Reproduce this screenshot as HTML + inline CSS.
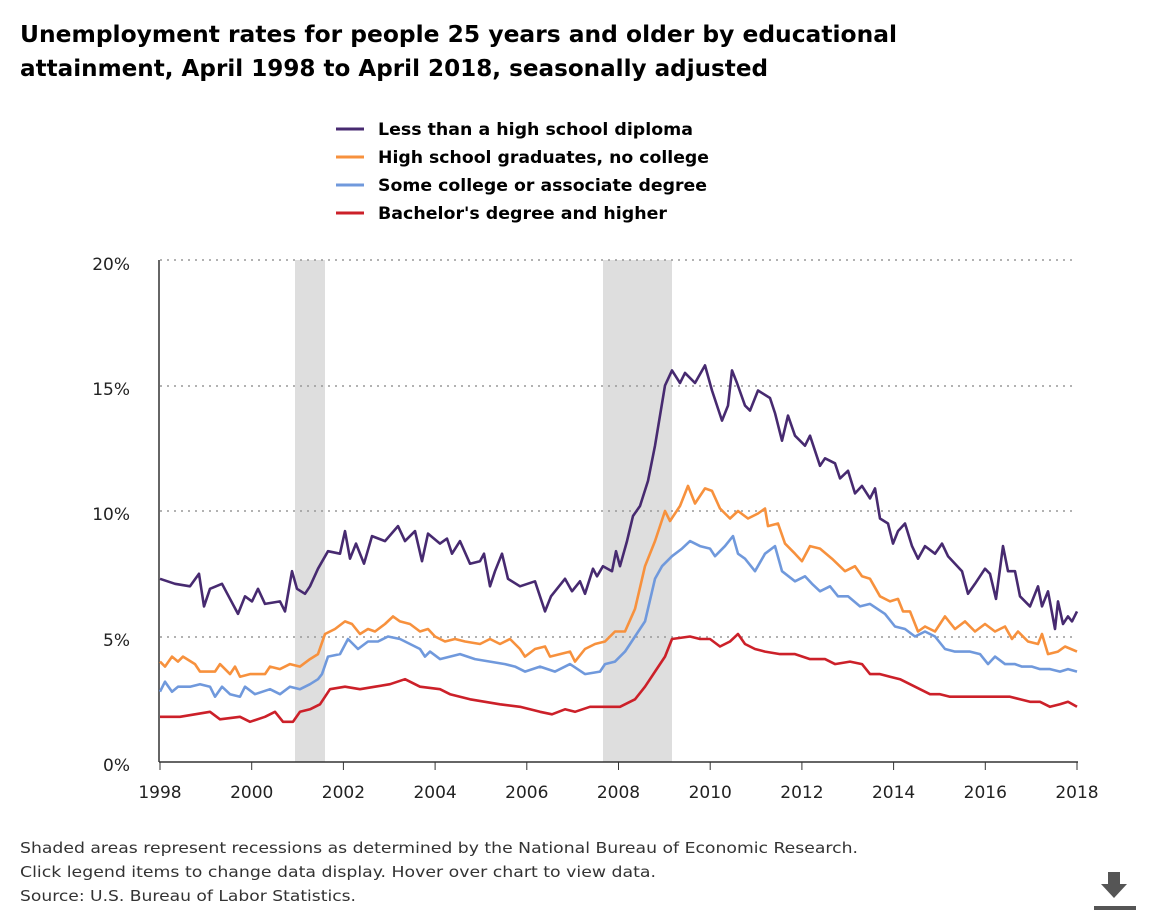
<!DOCTYPE html>
<html><head><meta charset="utf-8">
<style>
body{margin:0;background:#fff;width:1160px;height:920px;overflow:hidden;font-family:"DejaVu Sans",Verdana,sans-serif}
svg text{font-family:"DejaVu Sans",Verdana,sans-serif}
</style></head><body>
<svg id="c" width="1160" height="920" xmlns="http://www.w3.org/2000/svg">
<text x="20" y="42" font-size="23" font-weight="bold" fill="#000" textLength="877" lengthAdjust="spacingAndGlyphs">Unemployment rates for people 25 years and older by educational</text>
<text x="20" y="76" font-size="23" font-weight="bold" fill="#000" textLength="748" lengthAdjust="spacingAndGlyphs">attainment, April 1998 to April 2018, seasonally adjusted</text>
<g font-size="17" font-weight="bold" fill="#000">
<line x1="336" y1="129" x2="364" y2="129" stroke="#472a70" stroke-width="3"/><text x="378" y="135" textLength="315" lengthAdjust="spacingAndGlyphs">Less than a high school diploma</text>
<line x1="336" y1="157" x2="364" y2="157" stroke="#f7913d" stroke-width="3"/><text x="378" y="163" textLength="331" lengthAdjust="spacingAndGlyphs">High school graduates, no college</text>
<line x1="336" y1="185" x2="364" y2="185" stroke="#7099dc" stroke-width="3"/><text x="378" y="191" textLength="329" lengthAdjust="spacingAndGlyphs">Some college or associate degree</text>
<line x1="336" y1="213" x2="364" y2="213" stroke="#cc2029" stroke-width="3"/><text x="378" y="219" textLength="289" lengthAdjust="spacingAndGlyphs">Bachelor's degree and higher</text>
</g>
<rect x="295" y="260" width="30" height="502" fill="#dedede"/>
<rect x="603" y="260" width="69" height="502" fill="#dedede"/>
<g stroke="#999" stroke-dasharray="2,5" stroke-width="1.5">
<line x1="160" y1="260" x2="1077" y2="260"/><line x1="160" y1="386" x2="1077" y2="386"/>
<line x1="160" y1="511" x2="1077" y2="511"/><line x1="160" y1="637" x2="1077" y2="637"/>
</g>
<line x1="159" y1="260" x2="159" y2="762" stroke="#333" stroke-width="1.5"/>
<line x1="159" y1="762" x2="1078" y2="762" stroke="#333" stroke-width="1.5"/>
<g font-size="17" fill="#222" text-anchor="end">
<text x="130" y="270">20%</text><text x="130" y="395">15%</text><text x="130" y="520">10%</text><text x="130" y="646">5%</text><text x="130" y="771">0%</text>
</g>
<g id="ticks" font-size="17" fill="#222" text-anchor="middle"></g>
<g id="lines" fill="none" stroke-width="2.6" stroke-linejoin="round"></g>
<g font-size="15" fill="#333">
<text x="20" y="853" textLength="838" lengthAdjust="spacingAndGlyphs">Shaded areas represent recessions as determined by the National Bureau of Economic Research.</text>
<text x="20" y="877" textLength="636" lengthAdjust="spacingAndGlyphs">Click legend items to change data display. Hover over chart to view data.</text>
<text x="20" y="901" textLength="336" lengthAdjust="spacingAndGlyphs">Source: U.S. Bureau of Labor Statistics.</text>
</g>
<g fill="#555"><rect x="1108" y="872" width="12" height="14"/><polygon points="1101,884 1127,884 1114,898"/><rect x="1094" y="906" width="42" height="4"/></g>
</svg>
<script>
var NS="http://www.w3.org/2000/svg";
var tk=document.getElementById("ticks");
for(var i=0;i<=10;i++){var x=160+i*91.7;var l=document.createElementNS(NS,"line");l.setAttribute("x1",x);l.setAttribute("x2",x);l.setAttribute("y1",762);l.setAttribute("y2",770);l.setAttribute("stroke","#333");tk.appendChild(l);
var t=document.createElementNS(NS,"text");t.setAttribute("x",x);t.setAttribute("y",798);t.textContent=1998+2*i;tk.appendChild(t);}
var D={
"#472a70":[160,7.3,175,7.1,190,7.0,199,7.5,204,6.2,210,6.9,222,7.1,238,5.9,245,6.6,252,6.4,258,6.9,265,6.3,280,6.4,285,6.0,292,7.6,297,6.9,305,6.7,310,7.0,318,7.7,328,8.4,340,8.3,345,9.2,350,8.1,356,8.7,364,7.9,372,9.0,385,8.8,398,9.4,405,8.8,415,9.2,422,8.0,428,9.1,440,8.7,447,8.9,452,8.3,460,8.8,470,7.9,480,8.0,484,8.3,490,7.0,495,7.6,502,8.3,508,7.3,520,7.0,535,7.2,545,6.0,551,6.6,565,7.3,572,6.8,580,7.2,585,6.7,593,7.7,597,7.4,603,7.8,612,7.6,616,8.4,620,7.8,627,8.8,633,9.8,640,10.2,648,11.2,655,12.6,665,15.0,672,15.6,680,15.1,685,15.5,695,15.1,705,15.8,712,14.8,722,13.6,728,14.2,732,15.6,737,15.1,745,14.2,750,14.0,758,14.8,770,14.5,775,13.9,782,12.8,788,13.8,795,13.0,805,12.6,810,13.0,820,11.8,825,12.1,835,11.9,840,11.3,848,11.6,855,10.7,862,11.0,870,10.5,875,10.9,880,9.7,888,9.5,893,8.7,898,9.2,905,9.5,912,8.6,918,8.1,925,8.6,935,8.3,942,8.7,948,8.2,955,7.9,962,7.6,968,6.7,975,7.1,985,7.7,990,7.5,996,6.5,1003,8.6,1008,7.6,1015,7.6,1020,6.6,1030,6.2,1038,7.0,1042,6.2,1048,6.8,1055,5.3,1058,6.4,1063,5.5,1068,5.8,1072,5.6,1077,6.0],
"#f7913d":[160,4.0,165,3.8,172,4.2,178,4.0,183,4.2,195,3.9,200,3.6,215,3.6,220,3.9,230,3.5,235,3.8,240,3.4,250,3.5,265,3.5,270,3.8,280,3.7,290,3.9,300,3.8,310,4.1,318,4.3,325,5.1,335,5.3,345,5.6,352,5.5,360,5.1,368,5.3,375,5.2,385,5.5,393,5.8,400,5.6,410,5.5,420,5.2,428,5.3,435,5.0,445,4.8,455,4.9,465,4.8,480,4.7,490,4.9,500,4.7,510,4.9,520,4.5,525,4.2,535,4.5,545,4.6,550,4.2,570,4.4,575,4.0,585,4.5,595,4.7,605,4.8,615,5.2,625,5.2,635,6.1,645,7.8,655,8.8,665,10.0,670,9.6,680,10.2,688,11.0,695,10.3,705,10.9,712,10.8,720,10.1,730,9.7,738,10.0,748,9.7,758,9.9,765,10.1,768,9.4,778,9.5,785,8.7,795,8.3,802,8.0,810,8.6,820,8.5,832,8.1,845,7.6,855,7.8,862,7.4,870,7.3,880,6.6,890,6.4,898,6.5,903,6.0,910,6.0,918,5.2,925,5.4,935,5.2,945,5.8,955,5.3,965,5.6,975,5.2,985,5.5,995,5.2,1005,5.4,1012,4.9,1018,5.2,1028,4.8,1038,4.7,1042,5.1,1048,4.3,1058,4.4,1065,4.6,1077,4.4],
"#7099dc":[160,2.8,165,3.2,172,2.8,178,3.0,190,3.0,200,3.1,210,3.0,215,2.6,222,3.0,230,2.7,240,2.6,245,3.0,255,2.7,270,2.9,280,2.7,290,3.0,300,2.9,310,3.1,318,3.3,322,3.5,328,4.2,340,4.3,348,4.9,358,4.5,368,4.8,378,4.8,388,5.0,400,4.9,410,4.7,420,4.5,425,4.2,430,4.4,440,4.1,450,4.2,460,4.3,475,4.1,490,4.0,505,3.9,515,3.8,525,3.6,540,3.8,555,3.6,570,3.9,585,3.5,600,3.6,605,3.9,615,4.0,625,4.4,635,5.0,645,5.6,655,7.3,662,7.8,672,8.2,682,8.5,690,8.8,700,8.6,710,8.5,715,8.2,725,8.6,733,9.0,738,8.3,745,8.1,755,7.6,765,8.3,775,8.6,782,7.6,795,7.2,805,7.4,812,7.1,820,6.8,830,7.0,838,6.6,848,6.6,860,6.2,870,6.3,885,5.9,895,5.4,905,5.3,915,5.0,925,5.2,935,5.0,945,4.5,955,4.4,970,4.4,980,4.3,988,3.9,995,4.2,1005,3.9,1015,3.9,1022,3.8,1032,3.8,1040,3.7,1050,3.7,1060,3.6,1068,3.7,1077,3.6],
"#cc2029":[160,1.8,180,1.8,195,1.9,210,2.0,220,1.7,240,1.8,250,1.6,265,1.8,275,2.0,283,1.6,293,1.6,300,2.0,310,2.1,320,2.3,330,2.9,345,3.0,360,2.9,375,3.0,390,3.1,405,3.3,420,3.0,440,2.9,450,2.7,470,2.5,485,2.4,500,2.3,520,2.2,540,2.0,552,1.9,565,2.1,575,2.0,590,2.2,605,2.2,620,2.2,635,2.5,645,3.0,655,3.6,665,4.2,672,4.9,690,5.0,700,4.9,710,4.9,720,4.6,730,4.8,738,5.1,745,4.7,755,4.5,765,4.4,780,4.3,795,4.3,810,4.1,825,4.1,835,3.9,850,4.0,862,3.9,870,3.5,880,3.5,890,3.4,900,3.3,910,3.1,920,2.9,930,2.7,940,2.7,950,2.6,965,2.6,980,2.6,990,2.6,1000,2.6,1010,2.6,1020,2.5,1030,2.4,1040,2.4,1050,2.2,1060,2.3,1068,2.4,1077,2.2]};
var g=document.getElementById("lines");
["#cc2029","#7099dc","#f7913d","#472a70"].forEach(function(c){var a=D[c],p=[];for(var i=0;i<a.length;i+=2)p.push(a[i]+","+(762-a[i+1]*25.1).toFixed(1));
var pl=document.createElementNS(NS,"polyline");pl.setAttribute("points",p.join(" "));pl.setAttribute("stroke",c);g.appendChild(pl);});
</script>
</body></html>
